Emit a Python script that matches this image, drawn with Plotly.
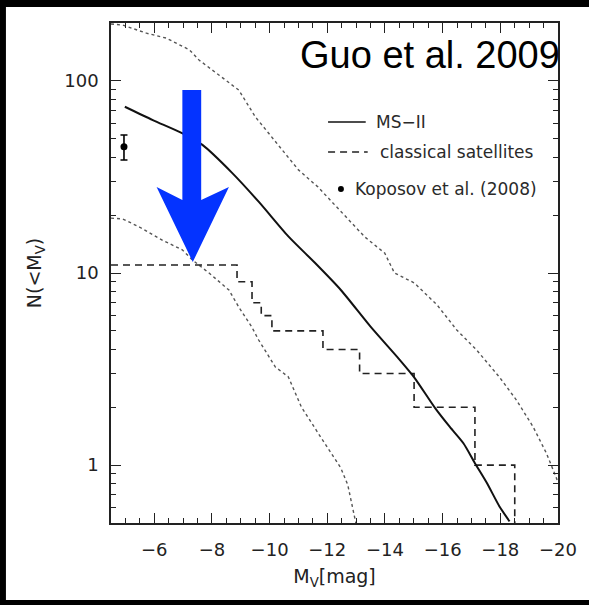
import plotly.graph_objects as go
import math

W, H = 589, 605
L, R, T, B = 111, 562, 23, 523  # plot frame in pixels

# ---------------- data ----------------
ms2_mv = [-4.98, -5.95, -6.98, -7.67, -8.69, -9.62, -10.65, -11.57, -12.47,
          -13.50, -14.43, -15.0, -15.74, -16.25, -16.72, -17.11, -17.53, -17.97, -18.32]
ms2_n = [73.3, 62.5, 53.3, 46.4, 33.3, 23.5, 15.5, 11.3, 8.16,
         5.26, 3.65, 2.88, 1.98, 1.58, 1.30, 1.03, 0.81, 0.61, 0.51]

sat_mv = [-4.5, -8.87, -9.39, -9.71, -10.08, -11.85, -13.12, -15.01, -17.12, -18.5]
sat_n = [11, 9, 7, 6, 5, 4, 3, 2, 1, 0.3]

upper_mv = [-4.5, -4.91, -5.73, -6.41, -7.22, -7.56, -8.25, -8.93, -9.51, -10.31, -11.0,
            -11.68, -12.47, -13.30, -13.99, -14.33, -15.02, -15.81, -16.49, -17.18,
            -17.97, -18.56, -19.14, -19.59, -19.93, -20.0]
upper_n = [197.6, 195, 177, 167, 145, 128, 107, 89.5, 64.8, 46.4, 34.4,
           28.0, 20.8, 15.4, 12.7, 10.0, 8.87, 6.81, 5.05, 3.97,
           2.87, 2.18, 1.58, 1.16, 0.87, 0.81]

lower_mv = [-4.5, -4.91, -5.50, -6.29, -6.97, -7.32, -7.90, -8.59, -8.93, -9.38, -9.62,
            -10.2, -10.65, -11.1, -11.68, -12.13, -12.47, -12.71, -12.99]
lower_n = [19.3, 19.1, 17.3, 14.8, 13.2, 11.7, 10.0, 8.15, 6.65, 5.24, 4.48,
           3.24, 2.88, 2.01, 1.47, 1.16, 0.966, 0.79, 0.5]

kop_mv = [-4.95]
kop_n = [45.4]
kop_err_plus = [6.9]
kop_err_minus = [6.7]

x_ticks = [-6, -8, -10, -12, -14, -16, -18, -20]
x_tick_labels = ["\u22126", "\u22128", "\u221210", "\u221212", "\u221214", "\u221216", "\u221218", "\u221220"]
x_minor = [-5 - 0.5 * i for i in range(30)]
y_ticks = [1, 10, 100]
y_tick_labels = ["1", "10", "100"]
y_minor = [0.5, 0.6, 0.7, 0.8, 0.9, 2, 3, 4, 5, 6, 7, 8, 9,
           20, 30, 40, 50, 60, 70, 80, 90, 200]

legend_labels = ["MS\u2212II", "classical satellites", "Koposov et al. (2008)"]
title_text = "Guo et al. 2009"


def px(x):
    return (x - L) / (R - L)


def py(y):
    return (B - y) / (B - T)


FONT = "DejaVu Sans"

fig = go.Figure()
fig.add_trace(go.Scatter(x=upper_mv, y=upper_n, mode="lines",
                         line=dict(color="#555", width=1.4, dash="dot"), showlegend=False))
fig.add_trace(go.Scatter(x=lower_mv, y=lower_n, mode="lines",
                         line=dict(color="#555", width=1.4, dash="dot"), showlegend=False))
fig.add_trace(go.Scatter(x=sat_mv, y=sat_n, mode="lines", line_shape="hv",
                         line=dict(color="#222", width=1.6, dash="7px,5px"), showlegend=False))
fig.add_trace(go.Scatter(x=ms2_mv, y=ms2_n, mode="lines", line_shape="spline",
                         line=dict(color="#111", width=2, smoothing=0.7), showlegend=False))
fig.add_trace(go.Scatter(x=kop_mv, y=kop_n, mode="markers",
                         marker=dict(color="black", size=7),
                         error_y=dict(type="data", array=kop_err_plus, arrayminus=kop_err_minus,
                                      color="black", thickness=1.6, width=3.5),
                         showlegend=False))

shapes = []
# white panel over black page
shapes.append(dict(type="rect", xref="paper", yref="paper", layer="below",
                   x0=px(5), x1=px(W + 5), y0=py(600), y1=py(7),
                   fillcolor="white", line=dict(width=0)))
# blue arrow
arrow_pts = [(183, 90), (202, 90), (202, 200), (230, 187), (193.5, 262),
             (157, 187), (183, 200)]
path = "M " + " L ".join(f"{px(a):.5f},{py(b):.5f}" for a, b in arrow_pts) + " Z"
shapes.append(dict(type="path", xref="paper", yref="paper", path=path,
                   fillcolor="rgb(4,51,255)", line=dict(width=0)))
# legend samples
shapes.append(dict(type="line", xref="paper", yref="paper",
                   x0=px(330), x1=px(368), y0=py(122), y1=py(122),
                   line=dict(color="#111", width=1.6)))
shapes.append(dict(type="line", xref="paper", yref="paper",
                   x0=px(330), x1=px(370), y0=py(152), y1=py(152),
                   line=dict(color="#222", width=1.6, dash="7px,5px")))
shapes.append(dict(type="circle", xref="paper", yref="paper",
                   x0=px(340), x1=px(346), y0=py(192), y1=py(186),
                   fillcolor="black", line=dict(width=0)))

LEG_FONT = dict(family=FONT, size=17, color="#2a2a2a")
annotations = [
    dict(text=legend_labels[0], x=px(376), y=py(122), xref="paper", yref="paper",
         xanchor="left", yanchor="middle", showarrow=False, font=LEG_FONT),
    dict(text=legend_labels[1], x=px(380), y=py(152), xref="paper", yref="paper",
         xanchor="left", yanchor="middle", showarrow=False, font=LEG_FONT),
    dict(text=legend_labels[2], x=px(355), y=py(189), xref="paper", yref="paper",
         xanchor="left", yanchor="middle", showarrow=False, font=LEG_FONT),
    dict(text=title_text, x=px(566), y=py(55), xref="paper", yref="paper",
         xanchor="right", yanchor="middle", showarrow=False,
         font=dict(family="Liberation Sans", size=38, color="black")),
]

axis_common = dict(
    ticks="inside", ticklen=10, tickwidth=1.3, tickcolor="#222",
    showline=True, linecolor="#222", linewidth=1.6, mirror="allticks",
    showgrid=False, zeroline=False,
    tickfont=dict(family=FONT, size=18, color="#222"),
)

fig.update_layout(
    width=W, height=H,
    margin=dict(l=L, r=W - R, t=T, b=H - B),
    paper_bgcolor="black", plot_bgcolor="white",
    shapes=shapes, annotations=annotations,
    showlegend=False,
    xaxis=dict(range=[-4.5, -20], tickmode="array", tickvals=x_ticks, ticktext=x_tick_labels,
               minor=dict(tickmode="array", tickvals=x_minor, ticks="inside", ticklen=5,
                          tickwidth=1.2, tickcolor="#222"),
               title=dict(text="M<sub>V</sub>[mag]", standoff=10,
                          font=dict(family=FONT, size=19, color="#222")),
               ticklabelstandoff=10,
               **axis_common),
    yaxis=dict(type="log", range=[math.log10(0.5), math.log10(200)],
               tickmode="array", tickvals=y_ticks, ticktext=y_tick_labels,
               minor=dict(tickmode="array", tickvals=y_minor, ticks="inside", ticklen=5,
                          tickwidth=1.2, tickcolor="#222"),
               title=dict(text="N(&lt;M<sub>V</sub>)", standoff=18,
                          font=dict(family=FONT, size=19, color="#222")),
               ticklabelstandoff=7,
               **axis_common),
)

fig.write_html("out.html")
